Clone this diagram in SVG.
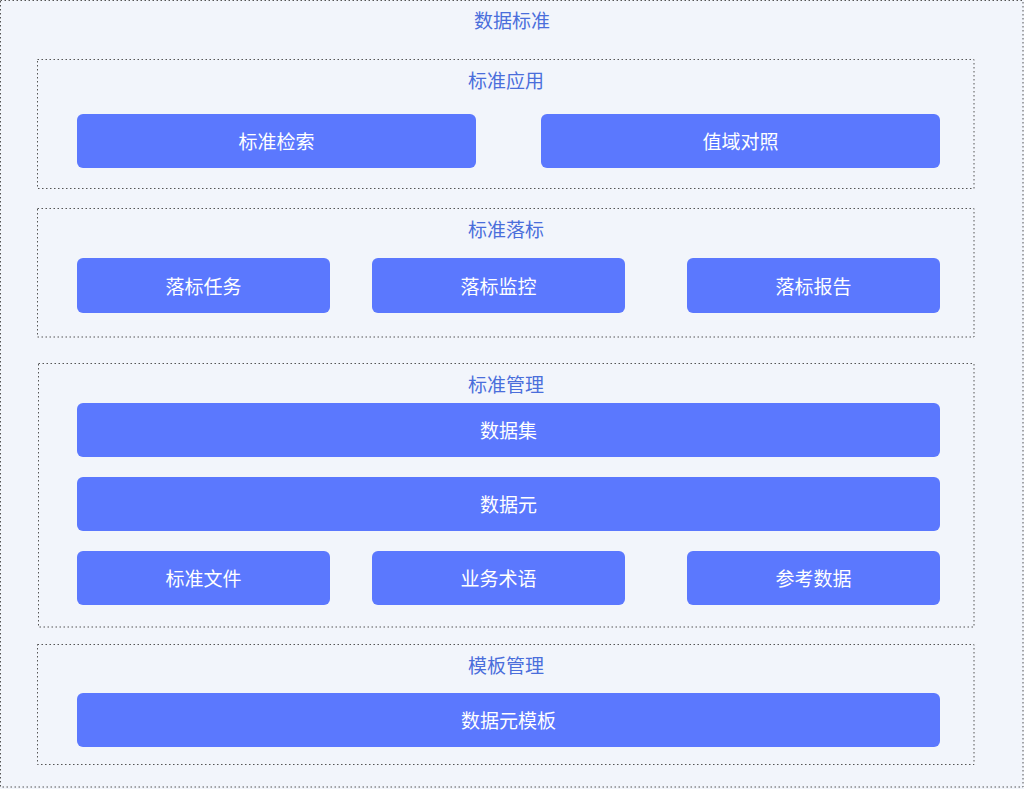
<svg xmlns="http://www.w3.org/2000/svg" width="1024" height="789" viewBox="0 0 1024 789">
<style>
.bg{fill:#f2f5fb}
.outer{fill:#f2f5fb;stroke:#555;stroke-width:1;stroke-dasharray:1.5 2.5}
.grp{fill:#f2f5fb;stroke:#555;stroke-width:1;stroke-dasharray:1.5 2.5}
.box{fill:#5b78fe}
.t{font-family:"Noto Sans CJK SC","Noto Sans",sans-serif;font-size:19px;text-anchor:middle;dominant-baseline:central}
.title{fill:#4a6edb}
.lbl{fill:#ffffff}
</style>
<rect class="bg" x="0" y="0" width="1024" height="789"/>
<g id="root">
<rect class="outer" x="0.5" y="0.5" width="1022.5" height="786.5"/>
<text class="t title" x="512" y="19">数据标准</text>
</g>
<g id="g-apply">
<rect class="grp" x="37.5" y="59.5" width="936.5" height="129"/>
<text class="t title" x="506" y="79">标准应用</text>
</g>
<g id="n-search"><rect class="box" x="77" y="114" width="399" height="54" rx="6"/><text class="t lbl" x="276.5" y="140">标准检索</text></g>
<g id="n-domain"><rect class="box" x="541" y="114" width="399" height="54" rx="6"/><text class="t lbl" x="740.5" y="140">值域对照</text></g>
<g id="g-landing">
<rect class="grp" x="37.5" y="208.5" width="936.5" height="128.5"/>
<text class="t title" x="506" y="228">标准落标</text>
</g>
<g id="n-task"><rect class="box" x="77" y="258" width="253" height="55" rx="6"/><text class="t lbl" x="203.5" y="285">落标任务</text></g>
<g id="n-monitor"><rect class="box" x="372" y="258" width="253" height="55" rx="6"/><text class="t lbl" x="498.5" y="285">落标监控</text></g>
<g id="n-report"><rect class="box" x="687" y="258" width="253" height="55" rx="6"/><text class="t lbl" x="813.5" y="285">落标报告</text></g>
<g id="g-manage">
<rect class="grp" x="38.5" y="363.5" width="935.5" height="263.5"/>
<text class="t title" x="506" y="383">标准管理</text>
</g>
<g id="n-dataset"><rect class="box" x="77" y="403" width="863" height="54" rx="6"/><text class="t lbl" x="508.5" y="429">数据集</text></g>
<g id="n-element"><rect class="box" x="77" y="477" width="863" height="54" rx="6"/><text class="t lbl" x="508.5" y="503">数据元</text></g>
<g id="n-file"><rect class="box" x="77" y="551" width="253" height="54" rx="6"/><text class="t lbl" x="203.5" y="577">标准文件</text></g>
<g id="n-term"><rect class="box" x="372" y="551" width="253" height="54" rx="6"/><text class="t lbl" x="498.5" y="577">业务术语</text></g>
<g id="n-ref"><rect class="box" x="687" y="551" width="253" height="54" rx="6"/><text class="t lbl" x="813.5" y="577">参考数据</text></g>
<g id="g-template">
<rect class="grp" x="37.5" y="644.5" width="936.5" height="120"/>
<text class="t title" x="506" y="664">模板管理</text>
</g>
<g id="n-tpl"><rect class="box" x="77" y="693" width="863" height="54" rx="6"/><text class="t lbl" x="508.5" y="719">数据元模板</text></g>
<g id="connectors"></g>
</svg>
